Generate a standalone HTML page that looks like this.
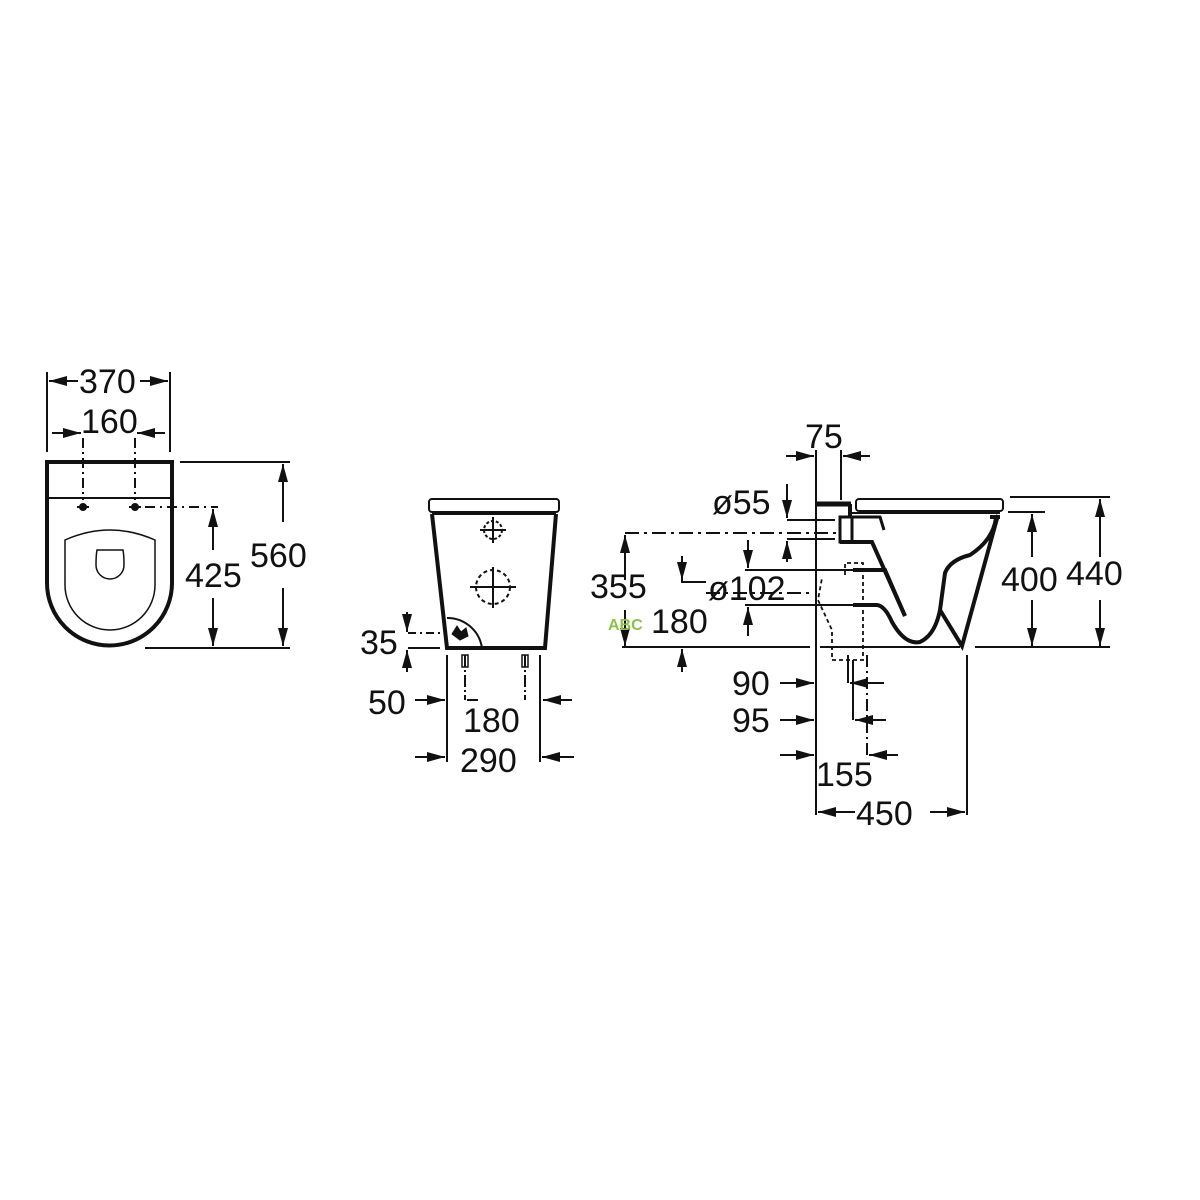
<!DOCTYPE html>
<html><head><meta charset="utf-8"><style>
html,body{margin:0;padding:0;background:#fff;width:1200px;height:1200px;overflow:hidden}
text{font-family:"Liberation Sans",Arial,sans-serif;font-size:34px;fill:#111}
</style></head><body>
<svg width="1200" height="1200" viewBox="0 0 1200 1200" xmlns="http://www.w3.org/2000/svg">
<defs>
<marker id="a" viewBox="0 0 18 10" refX="18" refY="5" markerWidth="18" markerHeight="10" markerUnits="userSpaceOnUse" orient="auto"><path d="M0,0L18,5L0,10z" fill="#111"/></marker>
</defs>
<g stroke="#111" fill="none" stroke-width="2">
<!-- LEFT VIEW -->
<path d="M47,372V452M170,372V452"/>
<path d="M78,381H49" marker-end="url(#a)"/>
<path d="M140,381H168" marker-end="url(#a)"/>
<text x="79" y="393" stroke="none">370</text>
<path d="M52,433H81" marker-end="url(#a)"/>
<path d="M165,433H137" marker-end="url(#a)"/>
<text x="81" y="433" stroke="none">160</text>
<path d="M83,438V500M135,438V500" stroke-dasharray="10,4,2,4"/>
<path d="M47,462H172V583A62,62 0 0 1 47,583Z" stroke-width="4"/>
<path d="M47,498H172" stroke-width="2"/>
<circle cx="83" cy="507" r="3" fill="#111"/><circle cx="135" cy="507" r="3" fill="#111"/>
<path d="M77,507H89M129,507H141"/>
<path d="M145,507H218" stroke-dasharray="10,5,2,5"/>
<path d="M65,540Q110,520 155,540V585A45,45 0 0 1 65,585Z" stroke-width="1.5"/>
<path d="M97,550H123Q124,555 124,565A14,14 0 0 1 96,565Q96,555 97,550Z" stroke-width="1.5"/>
<path d="M180,462H290M145,648H290"/>
<path d="M213,550V509" marker-end="url(#a)"/>
<path d="M213,598V646" marker-end="url(#a)"/>
<text x="185" y="587" stroke="none">425</text>
<path d="M283,522V464" marker-end="url(#a)"/>
<path d="M283,588V646" marker-end="url(#a)"/>
<text x="250" y="567" stroke="none">560</text>

<!-- MIDDLE VIEW -->
<rect x="429" y="499" width="130" height="13" rx="3" stroke-width="2"/>
<path d="M432,513H556" stroke-width="4"/>
<path d="M432,514L447,648H482M556,514L545,648H482" stroke-width="4"/>
<path d="M447,618A35,35 0 0 1 482,648" stroke-width="2"/>
<path d="M452,634l5,-8 4,6 5,-4 2,8 -8,4z" fill="#111" stroke-width="1"/>
<g stroke-width="2">
<circle cx="493" cy="530" r="9" stroke-dasharray="3,2"/>
<path d="M493,517V543M480,530H506"/>
<circle cx="493" cy="587" r="17" stroke-dasharray="4,3"/>
<path d="M493,567V608M470,587H516"/>
</g>
<path d="M408,633H445" stroke-dasharray="8,4,2,4"/>
<path d="M408,648H440"/>
<path d="M407,612V632" marker-end="url(#a)"/>
<path d="M407,672V650" marker-end="url(#a)"/>
<text x="360" y="654" stroke="none">35</text>
<path d="M447,655V762M540,655V762"/>
<path d="M465,655V700M525,655V700" stroke-dasharray="12,3,2,3"/>
<rect x="462" y="655" width="6" height="12" stroke-width="1.5"/><rect x="522" y="655" width="6" height="12" stroke-width="1.5"/>
<path d="M415,700H445" marker-end="url(#a)"/>
<path d="M478,700H467" />
<path d="M572,700H543" marker-end="url(#a)"/>
<text x="368" y="714" stroke="none">50</text>
<text x="463" y="732" stroke="none">180</text>
<path d="M415,757H445" marker-end="url(#a)"/>
<path d="M574,757H542" marker-end="url(#a)"/>
<text x="460" y="772" stroke="none">290</text>

<!-- RIGHT VIEW -->
<path d="M816,450V815M841,450V500"/>
<path d="M786,456H814" marker-end="url(#a)"/>
<path d="M870,456H843" marker-end="url(#a)"/>
<text x="805" y="448" stroke="none">75</text>
<path d="M816,504H851" stroke-width="5"/>
<path d="M850,504V517" stroke-width="4"/>
<rect x="856" y="499" width="147" height="12" rx="3" stroke-width="2"/>
<path d="M852,513H1000" stroke-width="2"/>
<rect x="840" y="517" width="12" height="25" stroke-width="3"/>
<path d="M852,517H880L884,530" stroke-width="3"/>
<path d="M840,542H872L905,616" stroke-width="4"/>
<path d="M853,570H885L905,616" stroke-width="4"/>
<path d="M853,605H877Q885,606 892,622Q905,645 920,642Q935,635 940,610L945,573Q950,560 970,555Q993,540 996,518" stroke-width="4"/>
<path d="M998,515L962,646L940,610" stroke-width="4"/>
<path d="M990,517h10" stroke-width="4"/>
<path d="M845,575V563H863V660H832V630L818,600L822,578" stroke-dasharray="4,3" stroke-width="1.8"/>
<path d="M625,533H840" stroke-dasharray="14,5,3,5"/>
<path d="M787,520H835M787,539H835"/>
<path d="M787,484V518" marker-end="url(#a)"/>
<path d="M787,562V541" marker-end="url(#a)"/>
<text x="712" y="514" stroke="none">ø55</text>
<path d="M625,580V535" marker-end="url(#a)"/>
<path d="M625,610V646" marker-end="url(#a)"/>
<text x="590" y="598" stroke="none">355</text>
<path d="M745,570H885M745,605H877"/>
<path d="M748,540V568" marker-end="url(#a)"/>
<path d="M748,636V607" marker-end="url(#a)"/>
<path d="M706,593H810" stroke-dasharray="14,5,3,5"/>
<path d="M682,556V580" marker-end="url(#a)"/>
<path d="M682,580V582H706"/>
<path d="M682,672V649" marker-end="url(#a)"/>
<text x="708" y="600" stroke="none">ø102</text>
<text x="651" y="633" stroke="none">180</text>
<text x="608" y="630" stroke="none" style="font-size:16px;font-weight:bold;fill:#8bc34a">ABC</text>
<path d="M622,647H810M820,647H960M975,647H1110"/>
<path d="M848,655V683M853,660V720"/>
<path d="M867,655V755" stroke-dasharray="12,4,2,4"/>
<path d="M780,683H814" marker-end="url(#a)"/>
<path d="M884,683H850" marker-end="url(#a)"/>
<path d="M780,720H814" marker-end="url(#a)"/>
<path d="M886,720H855" marker-end="url(#a)"/>
<path d="M780,755H814" marker-end="url(#a)"/>
<path d="M898,755H869" marker-end="url(#a)"/>
<text x="732" y="695" stroke="none">90</text>
<text x="732" y="732" stroke="none">95</text>
<text x="816" y="786" stroke="none">155</text>
<path d="M967,655V815"/>
<path d="M855,812H818" marker-end="url(#a)"/>
<path d="M930,812H965" marker-end="url(#a)"/>
<text x="856" y="825" stroke="none">450</text>
<path d="M1008,512H1045M1010,497H1110"/>
<path d="M1032,557V514" marker-end="url(#a)"/>
<path d="M1032,600V646" marker-end="url(#a)"/>
<text x="1001" y="591" stroke="none">400</text>
<path d="M1100,557V499" marker-end="url(#a)"/>
<path d="M1100,600V646" marker-end="url(#a)"/>
<text x="1066" y="585" stroke="none">440</text>
</g>
</svg>
</body></html>
